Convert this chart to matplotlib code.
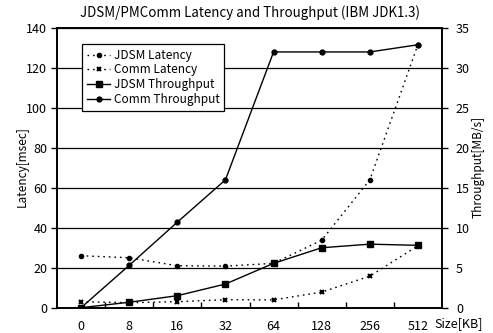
import numpy as np
import matplotlib.pyplot as plt

plt.rcParams['font.family'] = ['Noto Sans CJK JP', 'DejaVu Sans']
plt.rcParams['font.size'] = 8.5

# data
sizes = ['0', '8', '16', '32', '64', '128', '256', '512']
jdsm_latency = [26, 25, 21, 20.8, 22.2, 33.8, 64, 131.7]
comm_latency = [3, 2.5, 3, 4, 3.9, 7.8, 15.8, 31]
jdsm_throughput = [0, 0.68, 1.5, 2.96, 5.55, 7.5, 7.95, 7.8]
comm_throughput = [0, 5.3, 10.7, 16, 32, 32, 32, 32.9]

x = np.arange(len(sizes))

fig = plt.figure(figsize=(4.93, 3.33), dpi=100)
ax = fig.add_axes([0.1156, 0.076, 0.781, 0.840])
ax2 = ax.twinx()

dot = (0, (1.2, 2.8))
l1, = ax.plot(x, jdsm_latency, color='black', lw=1, linestyle=dot,
              marker='o', ms=3, label='JDSM Latency')
l2, = ax.plot(x, comm_latency, color='black', lw=1, linestyle=dot,
              marker='x', ms=3.5, mew=1.5, label='Comm Latency')
l3, = ax2.plot(x, jdsm_throughput, color='black', lw=1,
               marker='s', ms=4, label='JDSM Throughput')
l4, = ax2.plot(x, comm_throughput, color='black', lw=1,
               marker='o', ms=3.5, label='Comm Throughput')

ax.set_xlim(-0.5, 7.5)
ax.set_ylim(0, 140)
ax.set_yticks(np.arange(0, 141, 20))
ax2.set_ylim(0, 35)
ax2.set_yticks(np.arange(0, 36, 5))

ax.set_xticks(x)
ax.set_xticklabels(sizes)
ax.set_xticks(np.arange(0.5, 7, 1), minor=True)
ax.tick_params(axis='x', which='major', length=0, pad=9, labelsize=9)
ax.tick_params(axis='x', which='minor', direction='in', length=4, width=1)
ax.tick_params(axis='y', direction='out', length=4, width=1, pad=3, labelsize=9)
ax2.tick_params(axis='y', direction='out', length=4, width=1, pad=6, labelsize=9)

ax.yaxis.grid(True, color='black', lw=0.9)
ax.set_axisbelow(True)
for sp in ax.spines.values():
    sp.set_linewidth(1.2)
for sp in ax2.spines.values():
    sp.set_linewidth(1.2)

ax.set_title('JDSM/PMComm Latency and Throughput (IBM JDK1.3)', fontsize=9.6, pad=8)
fig.text(0.045, 0.5, 'Latency[msec]', rotation=90, va='center', ha='center', fontsize=8.5)
fig.text(0.97, 0.5, 'Throughput[MB/s]', rotation=90, va='center', ha='center', fontsize=8.5)
fig.text(0.93, 0.049, 'Size[KB]', va='top', ha='center', fontsize=9)

leg = ax2.legend(handles=[l1, l2, l3, l4], loc='upper left',
                 bbox_to_anchor=(0.065, 0.943), borderaxespad=0,
                 fancybox=False, framealpha=1, edgecolor='black',
                 handlelength=2.0, handletextpad=0.3, labelspacing=0.15,
                 fontsize=8.5, borderpad=0.4)
leg.get_frame().set_linewidth(0.9)

fig.savefig('out.png', dpi=100)
